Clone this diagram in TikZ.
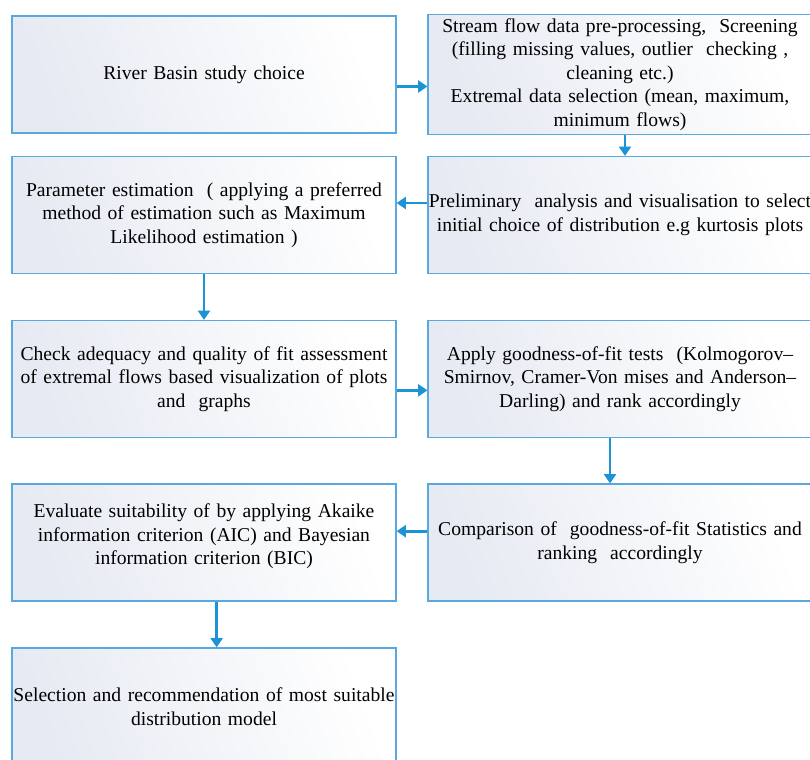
\documentclass[tikz,border=0pt]{standalone}
\usepackage{fontspec}
\setmainfont{Liberation Serif}
\usepackage{xcolor}
\usepackage{tikz}
\usetikzlibrary{arrows.meta}
\definecolor{boxline}{HTML}{5AA9DE}
\definecolor{flowblue}{HTML}{1B93D4}
\definecolor{boxshade}{HTML}{E6EAF2}

\begin{document}
\begin{tikzpicture}[x=0.75pt,y=-0.75pt,
	stepbox/.style={draw=boxline,line width=0.9pt,left color=boxshade,right color=white,shading angle=110,
		minimum width=288pt,minimum height=87.75pt,text width=287pt,inner xsep=0pt,align=center,
		font=\fontsize{14.7}{17.6}\selectfont},
	flow/.style={draw=flowblue,line width=2.1pt,-{Triangle[width=9pt,length=7pt]}}]
	\useasboundingbox (0,0) rectangle (810,760);
	\clip (0,0) rectangle (810,760);
	\fill[white] (0,0) rectangle (810,760);
	% left column
	\node[stepbox] (basin) at (204,74.5) {River Basin study choice};
	\node[stepbox] (param) at (204,215) {Parameter estimation~ ( applying a preferred\\ method of estimation such as Maximum\\ Likelihood estimation )};
	\node[stepbox] (check) at (204,379) {Check adequacy and quality of fit assessment\\ of extremal flows based visualization of plots\\ and~ graphs};
	\node[stepbox] (evaluate) at (204,542.5) {Evaluate suitability of by applying Akaike\\ information criterion (AIC) and Bayesian\\ information criterion (BIC)\\[-5pt]\mbox{}};
	\node[stepbox] (select) at (204,706.5) {Selection and recommendation of most suitable\\ distribution model};
	% right column
	\node[stepbox] (stream) at (620,74.5) {Stream flow data pre-processing,~ Screening\\ (filling missing values, outlier~ checking ,\\ cleaning etc.)\\ Extremal data selection (mean, maximum,\\ minimum flows)};
	\node[stepbox] (prelim) at (620,215) {Preliminary~ analysis and visualisation to select\\ initial choice of distribution e.g kurtosis plots};
	\node[stepbox] (gof) at (620,379) {Apply goodness-of-fit tests~ (Kolmogorov--\\ Smirnov, Cramer-Von mises and Anderson--\\ Darling) and rank accordingly};
	\node[stepbox] (compare) at (620,542.5) {Comparison of~ goodness-of-fit Statistics and\\ ranking~ accordingly};
	% connectors
	\draw[flow] ([yshift=-9pt]basin.east) -- ([yshift=-9pt]stream.west);
	\draw[flow] ([xshift=3.75pt]stream.south) -- ([xshift=3.75pt]prelim.north);
	\draw[flow] ([yshift=9pt]prelim.west) -- ([yshift=9pt]param.east);
	\draw[flow] (param.south) -- (check.north);
	\draw[flow] ([yshift=-8.5pt]check.east) -- ([yshift=-8.5pt]gof.west);
	\draw[flow] ([xshift=-7.5pt]gof.south) -- ([xshift=-7.5pt]compare.north);
	\draw[flow] ([yshift=8.5pt]compare.west) -- ([yshift=8.5pt]evaluate.east);
	\draw[flow] ([xshift=9.5pt]evaluate.south) -- ([xshift=9.5pt]select.north);
\end{tikzpicture}
\end{document}
